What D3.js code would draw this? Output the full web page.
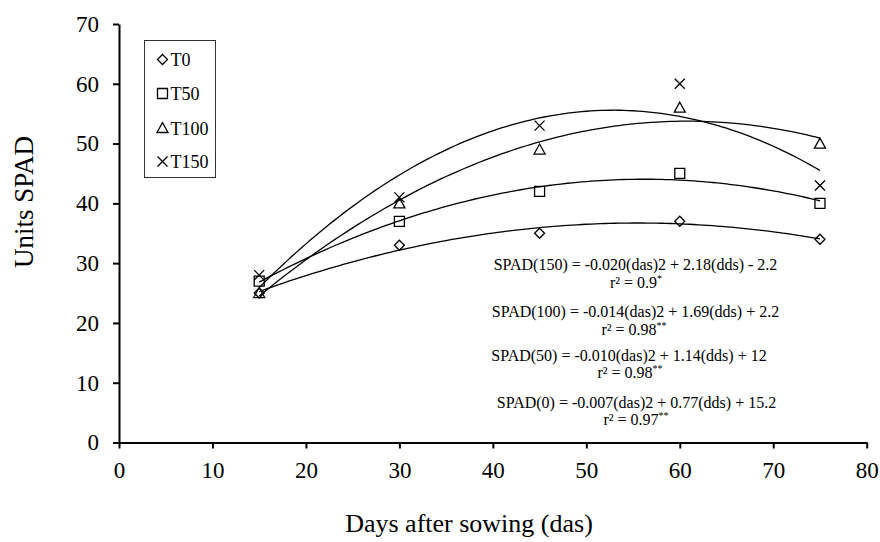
<html>
<head>
<meta charset='UTF-8'>
<script src="https://d3js.org/d3.v7.min.js"></script>
<style>
  body { margin: 0; background: #fff; }
  svg text { font-family: "Liberation Serif", "Times New Roman", serif !important; fill: #000; }
</style>
</head>
<body>
<svg id="chart" width="880" height="542"></svg>
<script>
// days after sowing and SPAD readings per treatment
const days = [15, 30, 45, 60, 75];
const t0 = [25, 33, 35, 37, 34];
const t50 = [27, 37, 42, 45, 40];
const t100 = [25, 40, 49, 56, 50];
const t150 = [28, 41, 53, 60, 43];

const seriesNames = ['T0', 'T50', 'T100', 'T150'];
const seriesSymbols = ['diamond', 'square', 'triangle', 'cross'];

const xTicks = [0, 10, 20, 30, 40, 50, 60, 70, 80];
const yTicks = [0, 10, 20, 30, 40, 50, 60, 70];

// equation labels as printed on the chart
const eqLines = [
  'SPAD(150) = -0.020(das)2 + 2.18(dds) - 2.2',
  'SPAD(100) = -0.014(das)2 + 1.69(dds) + 2.2',
  'SPAD(50) = -0.010(das)2 + 1.14(dds) + 12',
  'SPAD(0) = -0.007(das)2 + 0.77(dds) + 15.2'
];
const r2Values = ['0.9', '0.98', '0.98', '0.97'];
const r2Stars = ['*', '**', '**', '**'];

const series = [t0, t50, t100, t150];

let svg = d3.select('svg#chart');

let x = d3.scaleLinear().domain([0, 80]).range([119, 866.7]);
let y = d3.scaleLinear().domain([0, 70]).range([442.5, 24]);

// quadratic least squares fit
function quadFit(xs, ys) {
  let n = xs.length, s = [0, 0, 0, 0, 0], t = [0, 0, 0];
  for (let i = 0; i < n; i++) {
    for (let k = 0; k < 5; k++) s[k] += Math.pow(xs[i], k);
    for (let k = 0; k < 3; k++) t[k] += ys[i] * Math.pow(xs[i], k);
  }
  let A = [[s[0], s[1], s[2], t[0]], [s[1], s[2], s[3], t[1]], [s[2], s[3], s[4], t[2]]];
  for (let i = 0; i < 3; i++) {
    for (let j = i + 1; j < 3; j++) {
      let f = A[j][i] / A[i][i];
      for (let k = i; k < 4; k++) A[j][k] -= f * A[i][k];
    }
  }
  let c = [0, 0, 0];
  for (let i = 2; i >= 0; i--) {
    let v = A[i][3];
    for (let k = i + 1; k < 3; k++) v -= A[i][k] * c[k];
    c[i] = v / A[i][i];
  }
  return c;
}

// axes
let xAxis = d3.axisBottom(x).tickValues(xTicks).tickSize(6).tickSizeOuter(0).tickPadding(13);
let yAxis = d3.axisLeft(y).tickValues(yTicks).tickSize(6).tickSizeOuter(0).tickPadding(14);

let gx = svg.append('g').attr('transform', 'translate(0,' + y(0) + ')').call(xAxis);
let gy = svg.append('g').attr('transform', 'translate(' + x(0) + ',0)').call(yAxis);
[gx, gy].forEach(g => {
  g.attr('font-family', null).attr('font-size', 23);
  g.select('.domain').attr('stroke-width', 2);
  g.selectAll('.tick line').attr('stroke-width', 2);
  g.selectAll('.tick text').attr('font-size', 23);
});

// trend curves
let line = d3.line().x(d => x(d[0])).y(d => y(d[1]));
series.forEach(vals => {
  let c = quadFit(days, vals);
  let pts = d3.range(15, 75.01, 0.5).map(d => [d, c[0] + c[1] * d + c[2] * d * d]);
  svg.append('path')
     .attr('d', line(pts))
     .attr('fill', 'none')
     .attr('stroke', '#000')
     .attr('stroke-width', 1.3);
});

// marker drawing
function drawSymbol(g, kind, cx, cy) {
  let p;
  if (kind === 'diamond') {
    p = `M${cx},${cy - 5}L${cx + 5},${cy}L${cx},${cy + 5}L${cx - 5},${cy}Z`;
  } else if (kind === 'square') {
    p = `M${cx - 5},${cy - 5}H${cx + 5}V${cy + 5}H${cx - 5}Z`;
  } else if (kind === 'triangle') {
    p = `M${cx},${cy - 5.5}L${cx + 5.5},${cy + 4.5}L${cx - 5.5},${cy + 4.5}Z`;
  } else {
    p = `M${cx - 5},${cy - 5}L${cx + 5},${cy + 5}M${cx + 5},${cy - 5}L${cx - 5},${cy + 5}`;
  }
  g.append('path')
   .attr('d', p)
   .attr('fill', 'none')
   .attr('stroke', '#000')
   .attr('stroke-width', 1.3);
}

series.forEach((vals, i) => {
  vals.forEach((v, j) => drawSymbol(svg, seriesSymbols[i], x(days[j]), y(v)));
});

// legend
svg.append('rect')
   .attr('x', 144.5).attr('y', 40.5)
   .attr('width', 71).attr('height', 137)
   .attr('fill', '#fff').attr('stroke', '#333').attr('stroke-width', 1);
let legendY = [59.5, 93.5, 128, 161.5];
seriesNames.forEach((name, i) => {
  drawSymbol(svg, seriesSymbols[i], 162.5, legendY[i]);
  svg.append('text')
     .attr('x', 170.5).attr('y', legendY[i] + 6.5)
     .style('font-size', '18px')
     .text(name);
});

// equations
let eqBase = [270, 317, 361, 408];
let eqX = [635.5, 635.5, 629, 636.5];
let r2Base = [288, 335, 378, 425];
let r2X = [636, 634, 630, 636];
eqLines.forEach((txt, i) => {
  svg.append('text')
     .attr('x', eqX[i]).attr('y', eqBase[i])
     .attr('text-anchor', 'middle')
     .style('font-size', '16px')
     .text(txt);
  let t = svg.append('text')
     .attr('x', r2X[i]).attr('y', r2Base[i])
     .attr('text-anchor', 'middle')
     .style('font-size', '16px');
  t.append('tspan').text('r² = ' + r2Values[i]);
  t.append('tspan').attr('dy', -6).style('font-size', '10px').text(r2Stars[i]);
});

// axis titles
svg.append('text')
   .attr('x', 469).attr('y', 532)
   .attr('text-anchor', 'middle')
   .style('font-size', '26px')
   .text('Days after sowing (das)');

svg.append('text')
   .attr('transform', 'translate(33,202) rotate(-90)')
   .attr('text-anchor', 'middle')
   .style('font-size', '27px')
   .text('Units SPAD');
</script>
</body>
</html>
